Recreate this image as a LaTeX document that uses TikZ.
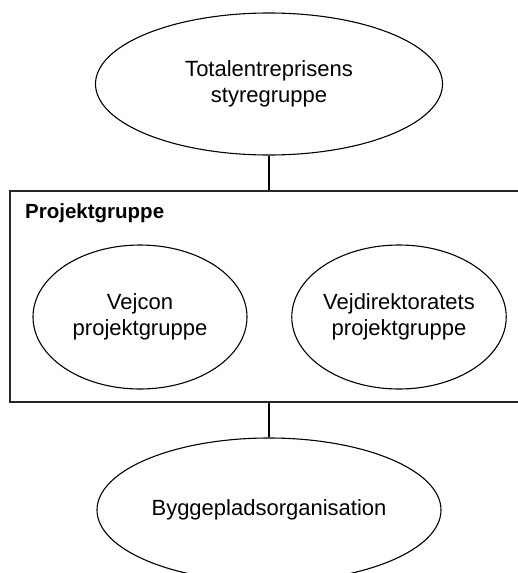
\documentclass[tikz,border=0pt]{standalone}
\usepackage{fontspec}
\setmainfont{Liberation Sans}
\usetikzlibrary{shapes.geometric}
\begin{document}
\begin{tikzpicture}[x=1pt,y=-1pt,
  oval/.style={draw=black, line width=1.1pt, ellipse, inner sep=0pt, align=center,
    font=\fontsize{22}{25.7}\selectfont},
  groupbox/.style={draw=black!85, line width=1.3pt, rectangle, inner sep=0pt,
    minimum width=518pt, minimum height=211pt},
  link/.style={draw=black, line width=1.1pt},
  title/.style={font=\fontsize{20.5}{24}\selectfont\bfseries, inner sep=0pt, anchor=base west}]
\useasboundingbox (0,0) rectangle (518,573);
\clip (0,0) rectangle (518,573);
\fill[white] (0,0) rectangle (518,573);
\node[oval, minimum width=347pt, minimum height=142pt] (top) at (269,84) {Totalentreprisens\\styregruppe};
\node[groupbox] (pg) at (269,296.5) {};
\node[title] (pgt) at (25,218) {Projektgruppe};
\node[oval, minimum width=214pt, minimum height=144pt] (vej) at (140,317) {Vejcon\\projektgruppe};
\node[oval, minimum width=212pt, minimum height=144pt] (vd) at (399,317) {Vejdirektoratets\\projektgruppe};
\node[oval, minimum width=344pt, minimum height=144pt] (bot) at (269,510) {Byggepladsorganisation};
\draw[link] (top) -- (pg.north);
\draw[link] (pg.south) -- (bot);
\end{tikzpicture}
\end{document}
